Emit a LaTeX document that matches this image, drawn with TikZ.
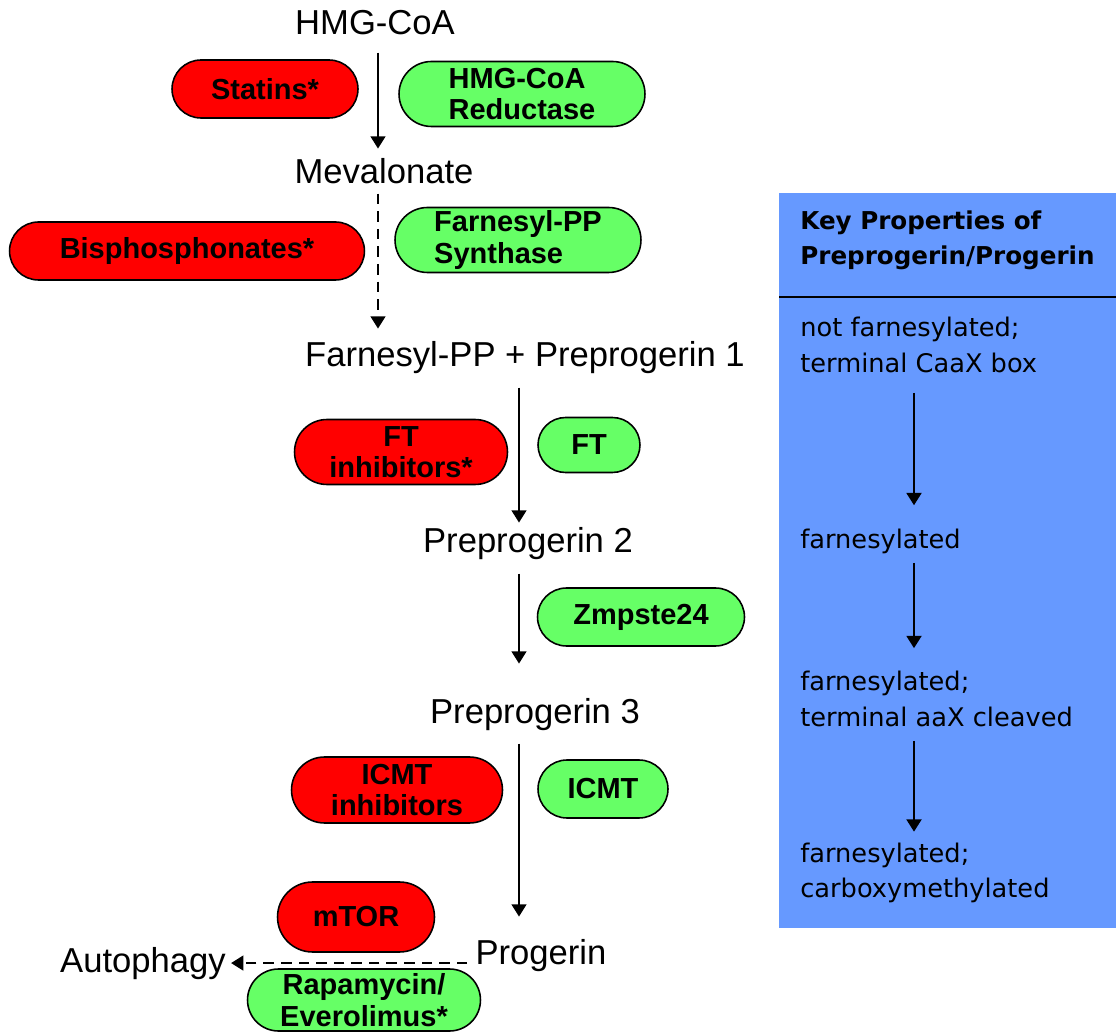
\documentclass[tikz,border=0pt]{standalone}
\usepackage{fontspec}
\setmainfont{Liberation Sans}
\newfontfamily\panelfont{DejaVu Sans}
\usepackage{tikz}
\usetikzlibrary{shapes.misc,arrows.meta}
\definecolor{inhibred}{HTML}{FF0000}
\definecolor{enzgreen}{HTML}{66FF66}
\definecolor{panelblue}{HTML}{6699FF}

\tikzset{
  pill/.style={rounded rectangle, draw=black, line width=0.9pt, inner sep=0pt,
               align=center, font=\fontsize{16.5}{18}\selectfont\bfseries},
  drug/.style={pill, fill=inhibred},
  enzyme/.style={pill, fill=enzgreen},
  metab/.style={font=\fontsize{19.7}{22}\selectfont, inner sep=0pt, anchor=base},
  prop/.style={font=\panelfont\fontsize{14.6}{20}\selectfont, inner sep=0pt,
               anchor=west, align=left},
  flow/.style={-{Triangle[width=8.5pt,length=7pt]}, line width=1pt},
  flowdash/.style={flow, dash pattern=on 6pt off 4pt}
}

\begin{document}
\begin{tikzpicture}[x=0.02cm, y=-0.02cm]
  \useasboundingbox (0,0) rectangle (1116,1033);
  % Pathway
  \node[metab] (hmg)  at (375,35)  {HMG-CoA};
  \node[metab] (mev)  at (384,184) {Mevalonate};
  \node[metab] (fpp)  at (525,367) {Farnesyl-PP + Preprogerin 1};
  \node[metab] (pp2)  at (528,553) {Preprogerin 2};
  \node[metab] (pp3)  at (535,724) {Preprogerin 3};
  \node[metab] (prog) at (541,964) {Progerin};
  \node[metab] (auto) at (143,972) {Autophagy};
  \coordinate (leftcol) at (378,0);
  \coordinate (maincol) at (519,0);
  % Drugs and enzymes
  \node[drug, minimum width=3.72cm, minimum height=1.16cm]   (statin) at (265,89)  {Statins*};
  \node[enzyme, minimum width=4.92cm, minimum height=1.30cm, align=left] (hmgr) at (522,94) {HMG-CoA\\Reductase};
  \node[drug, minimum width=7.10cm, minimum height=1.16cm]   (bisph)  at (187,251) {Bisphosphonates*};
  \node[enzyme, minimum width=4.92cm, minimum height=1.30cm, align=left] (fpps) at (518,240) {Farnesyl-PP\\Synthase};
  \node[drug, minimum width=4.26cm, minimum height=1.30cm]   (fti)    at (401,452) {FT\\inhibitors*};
  \node[enzyme, minimum width=2.04cm, minimum height=1.10cm] (ft)     at (589,445) {FT};
  \node[enzyme, minimum width=4.14cm, minimum height=1.16cm] (zmp)    at (641,617) {Zmpste24};
  \node[drug, minimum width=4.22cm, minimum height=1.32cm]   (icmti)  at (397,790) {ICMT\\inhibitors};
  \node[enzyme, minimum width=2.60cm, minimum height=1.16cm] (icmt)   at (603,789) {ICMT};
  \node[drug, minimum width=3.14cm, minimum height=1.40cm]   (mtor)   at (356,917) {mTOR};
  \node[enzyme, minimum width=4.66cm, minimum height=1.24cm] (rapa)   at (364,1000) {Rapamycin/\\Everolimus*};
  % Arrows
  \draw[flow, shorten <=0.34cm, shorten >=0.2cm]  (hmg.south -| leftcol) -- (mev.north -| leftcol);
  \draw[flowdash, shorten <=0.18cm, shorten >=0.26cm] (mev.south -| leftcol) -- (fpp.north -| leftcol);
  \draw[flow, shorten <=0.26cm, shorten >=0.1cm]  (fpp.south -| maincol) -- (pp2.north -| maincol);
  \draw[flow, shorten <=0.26cm, shorten >=0.7cm]  (pp2.south -| maincol) -- (pp3.north -| maincol);
  \draw[flow, shorten <=0.24cm, shorten >=0.44cm] (pp3.south -| maincol) -- (prog.north -| maincol);
  \draw[flowdash, shorten <=0.16cm, shorten >=0.1cm] (prog.west |- auto.east) -- (auto.east);
  % Key properties panel
  \fill[panelblue] (779,193) rectangle (1116,928);
  \draw[line width=1.2pt] (779,297) -- (1116,297);
  \node[prop, font=\panelfont\fontsize{14}{20}\selectfont\bfseries] (head) at (800,240) {Key Properties of\\Preprogerin/Progerin};
  \node[prop] (p1) at (800,345) {not farnesylated;\\terminal CaaX box};
  \node[prop] (p2) at (800,541) {farnesylated};
  \node[prop] (p3) at (800,699) {farnesylated;\\terminal aaX cleaved};
  \node[prop] (p4) at (800,873) {farnesylated;\\carboxymethylated};
  \coordinate (propcol) at (914,0);
  \draw[flow, line width=1.2pt, shorten <=0.4cm, shorten >=0.46cm]  (p1.south -| propcol) -- (p2.north -| propcol);
  \draw[flow, line width=1.2pt, shorten <=0.18cm, shorten >=0.46cm] (p2.south -| propcol) -- (p3.north -| propcol);
  \draw[flow, line width=1.2pt, shorten <=0.28cm, shorten >=0.22cm] (p3.south -| propcol) -- (p4.north -| propcol);
\end{tikzpicture}
\end{document}
